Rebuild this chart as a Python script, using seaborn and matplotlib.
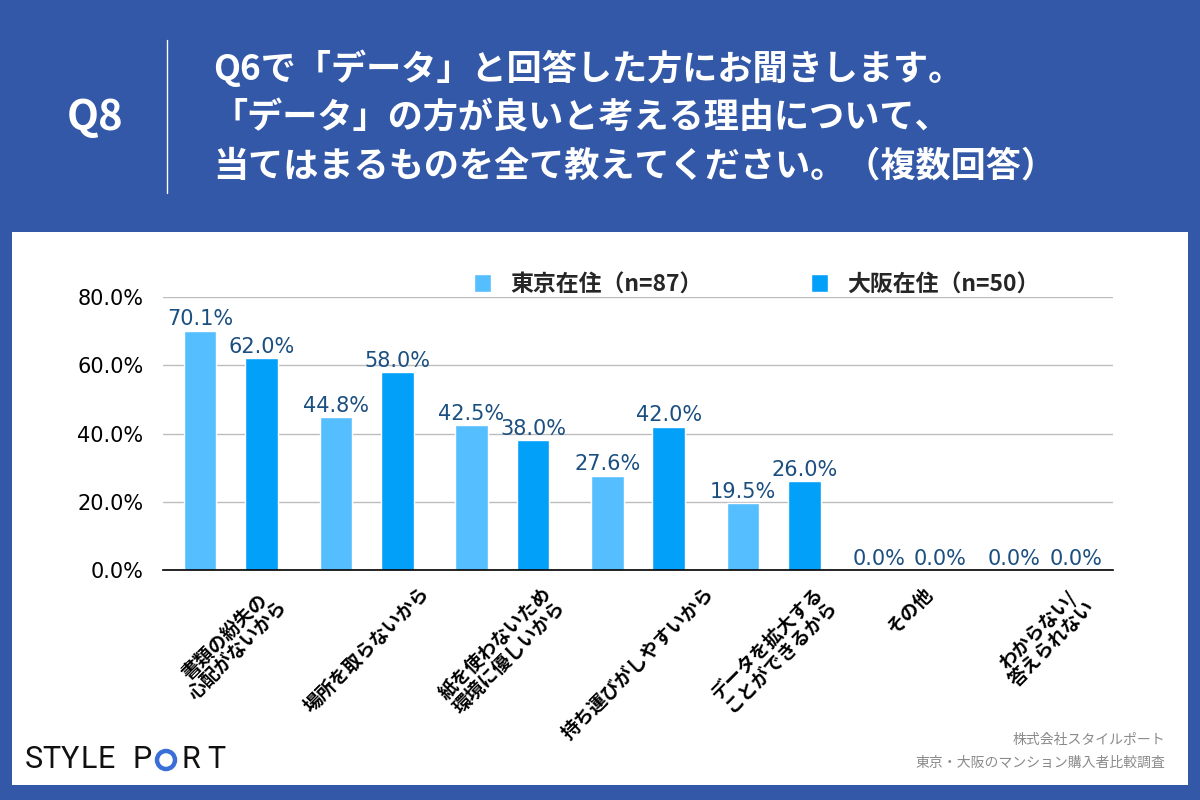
import matplotlib
matplotlib.use("Agg")
import matplotlib.pyplot as plt
from matplotlib.patches import Rectangle, Ellipse
from matplotlib.ticker import FuncFormatter
import seaborn as sns
import pandas as pd

# ---- data ----
categories = [
    "書類の紛失の\n心配がないから",
    "場所を取らないから",
    "紙を使わないため\n環境に優しいから",
    "持ち運びがしやすいから",
    "データを拡大する\nことができるから",
    "その他",
    "わからない/\n答えられない",
]
groups = ["東京在住（n=87）", "大阪在住（n=50）"]
tokyo = [70.1, 44.8, 42.5, 27.6, 19.5, 0.0, 0.0]
osaka = [62.0, 58.0, 38.0, 42.0, 26.0, 0.0, 0.0]
yticks = [0, 20, 40, 60, 80]

title_lines = [
    "Q6で「データ」と回答した方にお聞きします。",
    "「データ」の方が良いと考える理由について、",
    "当てはまるものを全て教えてください。（複数回答）",
]
credit_lines = ["株式会社スタイルポート", "東京・大阪のマンション購入者比較調査"]

BG = "#3358A8"
C_TOKYO = "#55BEFF"
C_OSAKA = "#03A0FA"
LABEL_C = "#1B4F80"

df = pd.DataFrame({
    "category": categories * 2,
    "group": [groups[0]] * len(categories) + [groups[1]] * len(categories),
    "value": tokyo + osaka,
})

sns.set_theme(style="white")
plt.rcParams["font.family"] = ["Noto Sans CJK JP", "DejaVu Sans"]
NUM_FONT = ["DejaVu Sans"]

fig = plt.figure(figsize=(12, 8), dpi=100, facecolor=BG)

# white panel
fig.patches.append(Rectangle((0.01, 0.01875), 0.98, 0.69125, transform=fig.transFigure,
                             facecolor="white", edgecolor="none", zorder=-10))

# header
fig.text(95 / 1200, 1 - 118 / 800, "Q8", color="white", fontsize=30, fontweight="bold",
         ha="center", va="center")
fig.add_artist(plt.Line2D([167 / 1200, 167 / 1200], [1 - 40 / 800, 1 - 193 / 800],
                          transform=fig.transFigure, color="white", lw=1))
for i, line in enumerate(title_lines):
    fig.text(213 / 1200, 1 - (68 + 49 * i) / 800, line, color="white", fontsize=25.3,
             fontweight="bold", ha="left", va="center")

ax = fig.add_axes([163 / 1200, 1 - 570 / 800, 950 / 1200, 273 / 800])
ax.set_facecolor("none")
ax.set_zorder(1)

sns.barplot(data=df, x="category", y="value", hue="group", palette=[C_TOKYO, C_OSAKA],
            width=0.906, gap=0.47, saturation=1, ax=ax, legend=True)

for cont in ax.containers:
    ax.bar_label(cont, labels=[f"{b.get_height():.1f}%" for b in cont], padding=1,
                 color=LABEL_C, fontsize=15, family=NUM_FONT)

ax.set_ylim(0, 80)
ax.set_yticks(yticks)
ax.yaxis.set_major_formatter(FuncFormatter(lambda v, p: f"{v:.1f}%"))
for t in ax.get_yticklabels():
    t.set_family(NUM_FONT)
ax.yaxis.grid(True, color="#BDBDBD", lw=1)
ax.set_axisbelow(True)
ax.set_xlabel("")
ax.set_ylabel("")
ax.set_xticks(range(len(categories)))
ax.set_xticklabels(categories, rotation=45, ha="center", va="top", fontsize=13.5,
                   fontweight="bold", color="black", linespacing=1.0)
ax.tick_params(axis="x", length=0, pad=10)
ax.tick_params(axis="y", length=0, pad=14, labelsize=15, labelcolor="black")
for s in ["left", "right", "top"]:
    ax.spines[s].set_visible(False)
ax.spines["bottom"].set_color("black")
ax.spines["bottom"].set_linewidth(1.2)

sns.move_legend(ax, "center", bbox_to_anchor=(0.625, 1.045), ncol=2, frameon=False,
                title=None, handlelength=0.75, handleheight=0.8, handletextpad=0.85,
                columnspacing=4.7, prop={"size": 16.5, "weight": "bold"})

# credit
for i, line in enumerate(credit_lines):
    fig.text(1165 / 1200, 1 - (740 + 23 * i) / 800, line, color="#8A8A8A", fontsize=10,
             ha="right", va="center")

# logo
logo = [("S", 34), ("T", 51.5), ("Y", 70), ("L", 89), ("E", 106.5), ("P", 142.5),
        ("R", 190.5), ("T", 216.5)]
for ch, x in logo:
    fig.text(x / 1200, 1 - 760 / 800, ch, color="#111111", fontsize=22,
             family=["Liberation Sans Narrow", "Roboto"], ha="center", va="center")
fig.add_artist(Ellipse((166 / 1200, 1 - 760 / 800), 18 / 1200, 18 / 800,
                       transform=fig.transFigure, facecolor="none", edgecolor="#3A6FD8",
                       lw=3.2))

fig.savefig("out.png", dpi=100, facecolor=BG)
